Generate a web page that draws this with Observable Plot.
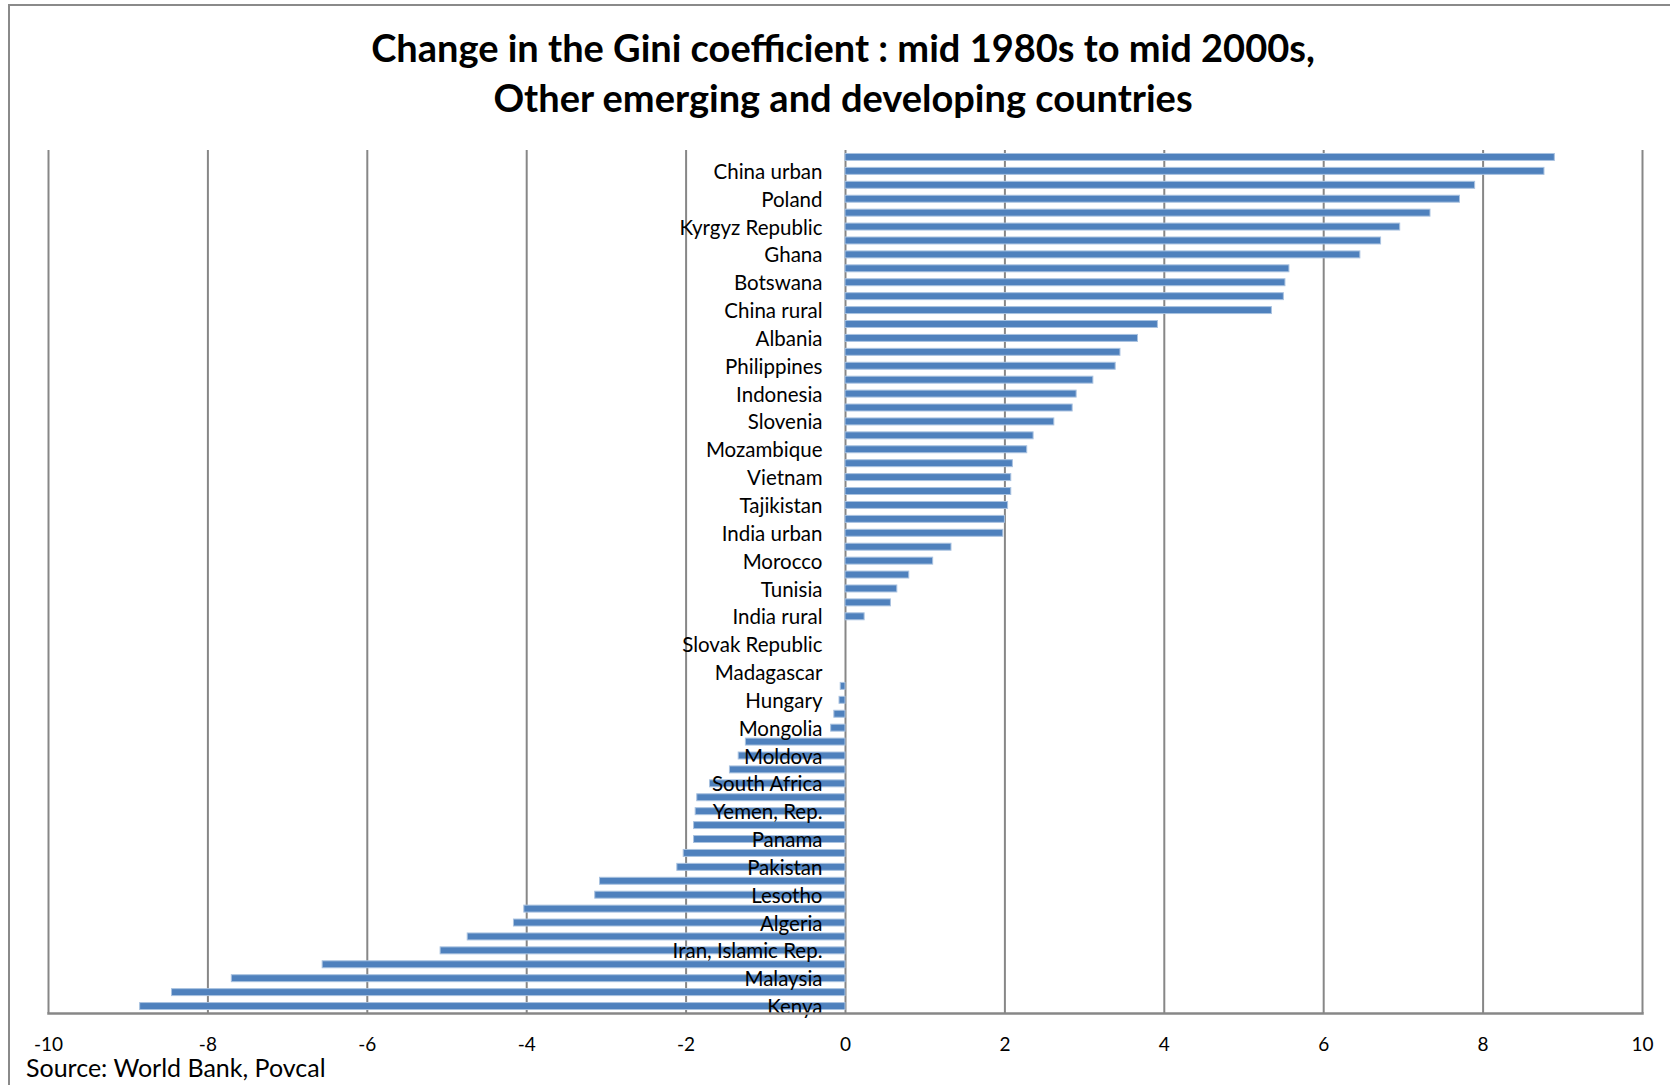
<!DOCTYPE html>
<html>
<head>
<meta charset="utf-8">
<script src="https://cdn.jsdelivr.net/npm/d3@7"></script>
<script src="https://cdn.jsdelivr.net/npm/@observablehq/plot@0.6"></script>
<style>
html,body{margin:0;padding:0;background:#fff;}
#wrap{position:relative;width:1670px;height:1085px;overflow:hidden;font-family:Lato,"Open Sans",sans-serif;}
#frame{position:absolute;left:8px;top:4px;width:1700px;height:1200px;border-left:2px solid #8a8a8a;border-top:2px solid #8a8a8a;}
#title{position:absolute;left:8px;width:1670px;top:22px;text-align:center;font-weight:bold;font-size:38px;line-height:50px;color:#000;}
#chart{position:absolute;left:0;top:0;}
#source{position:absolute;left:26px;top:1052px;font-size:25px;line-height:30px;color:#000;white-space:nowrap;}
</style>
</head>
<body>
<div id="wrap">
  <div id="frame"></div>
  <div id="chart"></div>
  <div id="title">Change in the Gini coefficient : mid 1980s to mid 2000s,<br>Other emerging and developing countries</div>
  <div id="source">Source: World Bank, Povcal</div>
</div>
<script>
// Category labels (Excel showed only every other category label; hidden ones are blank)
const labels = [
  "", "China urban", "", "Poland", "", "Kyrgyz Republic", "", "Ghana",
  "", "Botswana", "", "China rural", "", "Albania", "", "Philippines",
  "", "Indonesia", "", "Slovenia", "", "Mozambique", "", "Vietnam",
  "", "Tajikistan", "", "India urban", "", "Morocco", "", "Tunisia",
  "", "India rural", "", "Slovak Republic", "", "Madagascar", "", "Hungary",
  "", "Mongolia", "", "Moldova", "", "South Africa", "", "Yemen, Rep.",
  "", "Panama", "", "Pakistan", "", "Lesotho", "", "Algeria",
  "", "Iran, Islamic Rep.", "", "Malaysia", "", "Kenya"
];
// Change in the Gini coefficient (points)
const values = [
  8.90, 8.77, 7.90, 7.71, 7.34, 6.96, 6.72, 6.46,
  5.57, 5.52, 5.50, 5.35, 3.92, 3.67, 3.45, 3.39,
  3.11, 2.90, 2.85, 2.62, 2.36, 2.28, 2.10, 2.08,
  2.08, 2.04, 2.00, 1.98, 1.33, 1.10, 0.80, 0.65,
  0.57, 0.24, 0.00, 0.00, 0.00, 0.00, -0.06, -0.075,
  -0.14, -0.18, -1.25, -1.34, -1.45, -1.70, -1.86, -1.88,
  -1.90, -1.90, -2.03, -2.11, -3.08, -3.14, -4.03, -4.16,
  -4.74, -5.08, -6.56, -7.70, -8.45, -8.85
];
const xTicks = [-10, -8, -6, -4, -2, 0, 2, 4, 6, 8, 10];

const rows = values.map((v, i) => ({i, label: labels[i], value: v}));

const chart = Plot.plot({
  width: 1670,
  height: 1085,
  marginLeft: 48,
  marginRight: 28,
  marginTop: 150,
  marginBottom: 72,
  x: {domain: [-10, 10], axis: null},
  y: {domain: d3.range(values.length), axis: null, paddingInner: 0.5, paddingOuter: 0.25},
  style: {background: "transparent", fontFamily: "Lato, 'Open Sans', sans-serif", color: "#000"},
  marks: [
    Plot.ruleX(xTicks, {stroke: "#878787", strokeWidth: 2}),
    Plot.barX(rows.filter(d => d.value !== 0), {x: "value", y: "i", fill: "#4f81bd", stroke: "#a9c2e0", strokeWidth: 1}),
    Plot.text(rows.filter(d => d.label), {x: 0, y: "i", text: "label", textAnchor: "end", dx: -23, dy: 1, fontSize: 20.5, fill: "#000"}),
    Plot.axisX(xTicks, {anchor: "bottom", label: null, tickSize: 0, tickPadding: 24, fontSize: 19, tickFormat: d => String(d), fill: "#000"}),
    Plot.frame({anchor: "bottom", stroke: "#878787", strokeWidth: 2.5})
  ]
});
document.getElementById("chart").appendChild(chart);
</script>
</body>
</html>
